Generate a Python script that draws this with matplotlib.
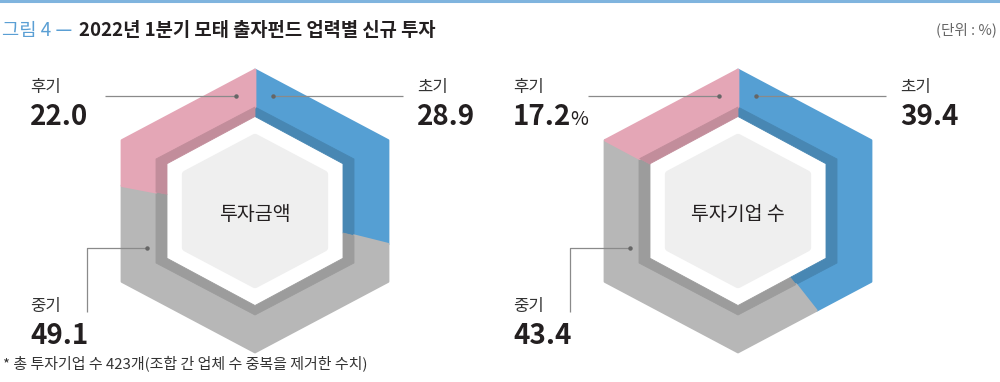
import numpy as np
import matplotlib
matplotlib.use("Agg")
import matplotlib.pyplot as plt
from matplotlib.patches import Polygon

plt.rcParams["font.family"] = ["Noto Sans CJK KR", "DejaVu Sans"]

# --- Data ---
stages = ["초기", "중기", "후기"]
amount_share = [28.9, 49.1, 22.0]     # 투자금액
firm_share = [39.4, 43.4, 17.2]       # 투자기업 수
panel_titles = ["투자금액", "투자기업 수"]
value_suffix = ["", "%"]

# --- Style ---
COLORS = {"초기": "#559fd3", "중기": "#b7b7b7", "후기": "#e4a6b6"}
TEXT = "#231f20"
LEADER = "#8a8a8a"

# hexagon sizes (half-width, half-height) in pixels
OUTER = (133, 141)
BAND = (99, 104)
INNER = (88, 94.5)
CORE = (69, 73)


def hex_vertices(w, h):
    return np.array([[0, -h], [w, -h / 2], [w, h / 2], [0, h], [-w, h / 2], [-w, -h / 2]])


def ray_hit(w, h, theta):
    d = np.array([np.sin(theta), -np.cos(theta)])
    verts = hex_vertices(w, h)
    for i in range(6):
        p, q = verts[i], verts[(i + 1) % 6]
        e = q - p
        m = np.array([[d[0], -e[0]], [d[1], -e[1]]])
        if abs(np.linalg.det(m)) < 1e-9:
            continue
        t, s = np.linalg.solve(m, p)
        if t > 0 and -1e-9 <= s <= 1 + 1e-9:
            return t * d
    return np.zeros(2)


def boundary(w, h, t0, t1):
    verts = hex_vertices(w, h)
    angs = np.mod(np.arctan2(verts[:, 0], -verts[:, 1]), 2 * np.pi)
    pts = [ray_hit(w, h, t0)]
    inside = [(a, v) for a, v in zip(angs, verts) if t0 + 1e-9 < a < t1 - 1e-9]
    inside.sort(key=lambda x: x[0])
    pts += [v for _, v in inside]
    pts.append(ray_hit(w, h, t1))
    return np.array(pts)


def ring_segment(ax, cx, cy, outer, inner, t0, t1, color, lw=0.6):
    out_pts = boundary(*outer, t0, t1)
    in_pts = boundary(*inner, t0, t1)[::-1]
    pts = np.vstack([out_pts, in_pts]) + [cx, cy]
    ax.add_patch(Polygon(pts, closed=True, facecolor=color, edgecolor=color, lw=lw,
                         joinstyle="round"))


def darker(c, f=0.85):
    r, g, b = matplotlib.colors.to_rgb(c)
    return (r * f, g * f, b * f)


def hex_donut(ax, cx, cy, shares, title):
    total = sum(shares)
    start = 0.0
    for stage, val in zip(stages, shares):
        t0 = 2 * np.pi * start / total
        t1 = 2 * np.pi * (start + val) / total
        ring_segment(ax, cx, cy, OUTER, BAND, t0, t1, COLORS[stage], lw=2)
        ring_segment(ax, cx, cy, BAND, INNER, t0, t1, darker(COLORS[stage]))
        start += val
    core = hex_vertices(*CORE) + [cx, cy]
    ax.add_patch(Polygon(core, closed=True, facecolor="#efefef", edgecolor="#efefef",
                         lw=6, joinstyle="round"))
    ax.text(cx, cy + 9, title, ha="center", va="baseline", fontsize=14, color=TEXT)


def value_label(ax, x, y_name, y_val, name, value, suffix):
    ax.text(x, y_name, name, ha="left", va="baseline", fontsize=12, color="#333333")
    t = ax.text(x, y_val, f"{value:.1f}", ha="left", va="baseline", fontsize=20,
                fontweight="bold", color=TEXT)
    if suffix:
        fig.canvas.draw()
        bb = t.get_window_extent().transformed(ax.transData.inverted())
        ax.text(bb.x1 - 1, y_val, suffix, ha="left", va="baseline", fontsize=14, color=TEXT)


def leader(ax, xs, ys):
    ax.plot(xs, ys, color=LEADER, lw=0.9, solid_capstyle="butt")
    ax.plot(xs[-1], ys[-1], "o", color="#666666", ms=2.2)


fig = plt.figure(figsize=(10, 3.82), dpi=100)
ax = fig.add_axes([0, 0, 1, 1])
ax.set_xlim(0, 1000)
ax.set_ylim(382, 0)
ax.axis("off")

# top rule
ax.plot([0, 1000], [1, 1], color="#7fb4de", lw=2.2)

# title
ax.text(2, 36, "그림 4 —", ha="left", va="baseline", fontsize=13.5, color="#5a9fd4")
ax.text(79, 36, "2022년 1분기 모태 출자펀드 업력별 신규 투자", ha="left", va="baseline",
        fontsize=13.5, fontweight="bold", color=TEXT)
ax.text(997, 34, "(단위 : %)", ha="right", va="baseline", fontsize=10.5, color="#666666")

# charts
centers = [(255, 211), (738, 211)]
for (cx, cy), shares, title, suf in zip(centers, [amount_share, firm_share],
                                         panel_titles, value_suffix):
    hex_donut(ax, cx, cy, shares, title)
    # 후기 (upper left)
    leader(ax, [cx - 150, cx - 19], [96, 96])
    value_label(ax, cx - 225, 92, 125, stages[2], shares[2], suf)
    # 초기 (upper right)
    leader(ax, [cx + 148, cx + 18], [96, 96])
    value_label(ax, cx + 162, 92, 125, stages[0], shares[0], "")
    # 중기 (lower left)
    leader(ax, [cx - 168, cx - 168, cx - 108], [312, 248, 248])
    value_label(ax, cx - 225, 311, 344, stages[1], shares[1], "")

# footnote
ax.text(3, 368, "* 총 투자기업 수 423개(조합 간 업체 수 중복을 제거한 수치)", ha="left",
        va="baseline", fontsize=10.8, color="#333333")

fig.savefig("out.png", dpi=100)
